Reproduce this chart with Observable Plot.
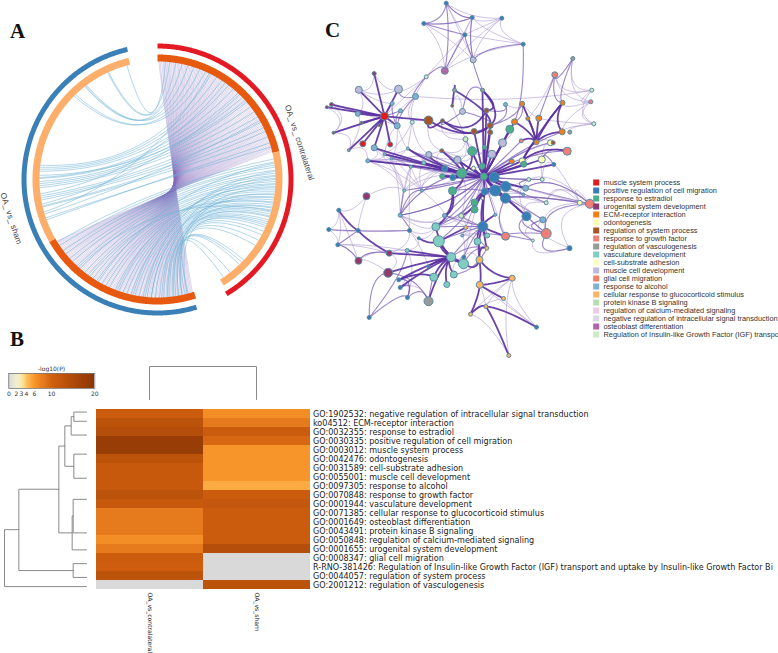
<!DOCTYPE html>
<html><head><meta charset="utf-8">
<script src="https://cdn.jsdelivr.net/npm/d3@7"></script>
<script src="https://cdn.jsdelivr.net/npm/@observablehq/plot@0.6"></script>
<style>
html,body{margin:0;padding:0;background:#fff}
#page{position:relative;width:778px;height:653px;overflow:hidden;background:#fff}
#page>svg,#page>div{position:absolute}
.tag{font:bold 21px "Liberation Serif",serif;color:#111;line-height:21px}
</style></head><body><div id="page"></div>
<script>
// ---------- Panel A: chord diagram (angles in degrees clockwise from the top)
const ringOuter = [{name:"OA_ vs_ contralateral",a0:0,a1:149,color:"#e31a24"},{name:"OA_ vs_ sham",a0:163,a1:347,color:"#3a80b6"}];
const ringInner = [{a0:0,a1:77,color:"#e6590f"},{a0:77,a1:148,color:"#fdae6b"},{a0:162,a1:240,color:"#e6590f"},{a0:240,a1:346.6,color:"#fdae6b"}];
const purpleFrom = [0.6,1.2,2,2.7,3.3,4.1,4.8,5.5,6.1,6.9,7.6,8.2,9,9.7,10.4,11,11.8,12.5,13.2,13.9,14.5,15.3,16,16.7,17.3,18.1,18.8,19.5,20.1,20.9,21.6,22.3,22.9,23.7,24.4,25.1,25.8,26.4,27.2,27.9,28.6,29.2,30,30.7,31.4,32,32.8,33.5,34.2,34.9,35.5,36.3,37,37.7,38.3,39.1,39.8,40.5,41.1,41.9,42.6,43.3,44,44.6,45.4,46.1,46.8,47.4,48.2,48.9,49.6,50.2,51,51.7,52.4,53.1,53.7,54.5,55.2,55.9,56.5,57.3,58,58.7,59.3,60.1,60.8,61.5,62.2,62.8,63.6,64.3,65,65.6,66.4,67.1,67.8,68.4,69.2,69.9,70.6,71.3,71.9,72.7,73.4,74.1,74.7,75.5,76.2];
const purpleTo = [162.8,163.5,164.2,164.9,165.6,166.2,167,167.7,168.4,169,169.8,170.5,171.2,171.9,172.5,173.3,174,174.7,175.3,176.1,176.8,177.5,178.1,178.9,179.6,180.3,181,181.6,182.4,183.1,183.8,184.4,185.2,185.9,186.6,187.3,187.9,188.7,189.4,190.1,190.7,191.5,192.2,192.9,193.5,194.3,195,195.7,196.4,197,197.8,198.5,199.2,199.8,200.6,201.3,202,202.6,203.4,204.1,204.8,205.5,206.1,206.9,207.6,208.3,208.9,209.7,210.4,211.1,211.8,212.4,213.2,213.9,214.6,215.2,216,216.7,217.4,218.1,218.7,219.5,220.2,220.9,221.5,222.3,223,223.7,224.4,225,225.8,226.5,227.2,227.8,228.6,229.3,230,230.7,231.3,232.1,232.8,233.5,234.1,234.9,235.6,236.3,237,237.7,238.5];
const bluePairs = [[345,4],[335,6],[335.5,9],[322,12],[322.5,15],[323,18],[315,21],[316,24],[276,30],[275,33],[274,37],[271,40],[270.5,43],[269,46],[268,49],[267,52],[266,55],[262,58],[261,61],[260,64],[257,66],[256.5,69],[250,72],[251,74],[277,27],[272,48],[263,35],[258,44],[253,60],[254,26],
[80,238],[81.5,236],[83,233],[84,231],[85.5,228],[87,226],[88,223],[89.5,221],[91,218],[92,216],[93.5,213],[95,211],[96,208],[97.5,206],[98.5,204],[100,201],[101,199],[102.5,197],[103.5,195],[105,193],[106,191],[107,189],[108.5,187],[110,185],[111,183],[112,181],[114,179],[116,177],[118,175.5],[121,174],[124,172.5],[133,171],[134.5,169.5],[136,168],[142,166.5],[146,165],[86,186],[90,178],[94,170],[99,183],[104,175],[88.5,192],[92.5,200],[97,168],[108,172],[113,165.5],[82,210],[101.5,215],[105.5,222]];

// ---------- Panel B: heatmap of -log10(P)
const goTerms = ["GO:1902532: negative regulation of intracellular signal transduction","ko04512: ECM-receptor interaction","GO:0032355: response to estradiol","GO:0030335: positive regulation of cell migration","GO:0003012: muscle system process","GO:0042476: odontogenesis","GO:0031589: cell-substrate adhesion","GO:0055001: muscle cell development","GO:0097305: response to alcohol","GO:0070848: response to growth factor","GO:0001944: vasculature development","GO:0071385: cellular response to glucocorticoid stimulus","GO:0001649: osteoblast differentiation","GO:0043491: protein kinase B signaling","GO:0050848: regulation of calcium-mediated signaling","GO:0001655: urogenital system development","GO:0008347: glial cell migration","R-RNO-381426: Regulation of Insulin-like Growth Factor (IGF) transport and uptake by Insulin-like Growth Factor Bi","GO:0044057: regulation of system process","GO:2001212: regulation of vasculogenesis"];
const columns = ["OA_vs_contralateral","OA_vs_sham"];
const contralateral = [11,13,14,18,18,13,11.5,11.5,11.5,13,11.5,8,8,8,6.5,8,11,10.5,13,0];
const sham = [6.5,8,11,9.5,6,6,6,6,5,11,12,11,11,11,11,14,0,0,0,13];
const heatStops = [0,2,3,4,6,10,20];
const heatColors = ["#d9d9d9","#f1eed0","#fbe9a8","#fdc05a","#f8952a","#d2600f","#8a3403"];
const barPositions = [8.3,16,21,26,34,51,94.3];
// dendrogram merges: top child distance/row, merge distance, bottom child distance/row
const merges = [[0,.5,38,0,1.5],[38,1,46,0,3],[0,5.08,38,0,7.7],[46,2,65,38,6.4],[0,10,40,0,13.65],[40,11.8,43,0,15.5],[65,4.2,83,43,13.65],[0,17,40,0,18.5],[83,8.9,203,40,17.75],[203,13.3,246,0,19.5]];

// ---------- Panel C: enrichment network
const terms = ["muscle system process","positive regulation of cell migration","response to estradiol","urogenital system development","ECM-receptor interaction","odontogenesis","regulation of system process","response to growth factor","regulation of vasculogenesis","vasculature development","cell-substrate adhesion","muscle cell development","glial cell migration","response to alcohol","cellular response to glucocorticoid stimulus","protein kinase B signaling","regulation of calcium-mediated signaling","negative regulation of intracellular signal transduction","osteoblast differentiation","Regulation of Insulin-like Growth Factor (IGF) transpo"];
const termColors = ["#e41a1c","#377eb8","#4daf8a","#8e3a6e","#f57f17","#ffffb3","#a65628","#ef8078","#999999","#80cdc1","#ffffbf","#bebada","#f08068","#80b1d3","#fdb462","#b3dfb0","#f0cbe5","#d9d9e3","#b066a8","#ccebc5"];
const nodeX = [445.7,471.7,501.3,423.3,464.3,522.7,472.7,444.3,425.7,373.7,358.3,398,415,572.3,554.3,591.3,590.3,593.3,454,482,331,326.3,391.7,400,357.3,384,361,379,396.7,411.7,428,442,451.7,462,486,505,521.7,562,514,527.3,538.3,489.7,473.7,489.7,509.3,333,362.3,389.7,348.3,373.7,465,441.3,471.7,502,491.3,484,520.7,536,550,552.7,561.7,569.3,566.7,541.3,521.7,523.3,511.3,553.3,407.3,428.3,367.3,384,391,423.3,410.3,457,444.3,441.7,461.3,452.3,473,481.7,483.3,493.7,505.3,528.3,541.7,494.7,484.3,505,525,522.7,482,452,474,474,444,460.7,494.7,526,545.7,579.3,589.3,542.3,435.3,465.3,482.3,461.7,486.7,438.3,477,505,545.7,532.3,569,486.3,450.7,463.3,479,366,403.7,421.3,399.7,338.3,328.3,357.7,337.3,409,418.3,406.7,388.7,358,387.7,427.7,433.3,453.3,463,446.3,398.3,399.7,407,428,368.7,479.3,511.7,503,485.3,470,536,508.3];
const nodeY = [2.7,17,17.7,23,34.3,43.7,59.3,70.3,76.3,73,89.3,88.7,96,58,74.3,89.7,101.3,123.3,89.7,89.7,104,106.7,103,110.3,113.3,115.7,122.3,124.7,125.3,121.7,120,120.3,105.3,111,110,104,103.3,102.3,121.3,118,117.7,125,131,131.7,128.7,132.3,143.3,144,149.7,147.3,138.7,150.3,150.7,142.3,153.7,146.7,140.3,141.7,142.3,142.3,131.3,131.7,150.7,159,160.3,163.7,161,164,148,154,160.3,153.7,158,162.3,166.3,159.3,168,175.7,172.7,177,167.7,165.7,176,176.7,186,179,179,190,191,197.7,187.7,194,197.7,190.3,202,209,215,215.3,214.3,215.7,202.3,202.3,203.3,219.3,226.3,227,226,235,235,240.7,241,235.7,233,240,247.7,247.7,256.7,256.7,259.3,195.7,190,190,214.7,209.7,229,230,244.3,230,237.7,250,252.7,260.3,272.3,266,276.7,274,263.3,284,279.3,287,297,300.7,317,284.3,277.7,298,306,313.7,326.7,355];
const nodeSize = [2,2,2,2,2,2,3,3.5,2,2,3.5,4,3,2,3,2,2,2,2,2,2,1.5,2,2,2.5,4,1.5,1.5,3,2,4.5,2,1.5,3,2.5,2,2.5,2.5,3,2,3,3,3,2.5,4,1.5,3,2.5,1.5,3,2.5,2,4.5,4,4,2,2,2.5,3,2,3,2,4,3.5,3,3,2.5,2,1.5,3,2,1.5,1.5,2,1.5,3.5,3,2.5,5,3,2,3,3.5,5,5,2,2,5.5,3.5,5,3,1.5,1.5,4,3.5,3.5,2,2.5,1.5,4.5,2,2.5,4.5,3,4,2,5,1.5,2.5,5.5,3.5,4,5,1.5,2.5,2,4.5,2,3.5,3.5,1.5,1.5,2,2,2,2,2,2,1.5,2,3,3.5,4.5,1.5,4,3.5,5,3,2,2,2,4.5,2,3.5,3,2,2,2,2,2];
const nodeTerm = [1,1,1,1,1,1,11,18,19,3,11,11,13,8,7,19,7,19,8,8,3,3,13,13,13,0,6,6,13,19,6,6,6,11,6,13,4,4,4,4,4,6,6,6,2,6,0,0,8,13,19,6,2,11,11,2,7,4,5,6,4,8,7,5,5,2,4,1,9,11,13,13,13,9,9,11,1,2,2,1,5,2,2,1,1,19,19,1,1,1,13,13,5,2,2,2,13,19,13,1,19,5,7,13,9,14,1,13,9,9,9,7,7,19,1,14,9,1,14,3,9,13,13,1,1,1,1,1,1,9,3,3,3,1,9,9,9,9,1,1,1,8,1,14,14,14,14,14,1,14];
// edges: hub node number (1-based) and the nodes it joins
const strongEdges = [[26,[31,11,12,10,21,22,47,48,49,50,46,25,27,28,29]],[31,[32,42]],[32,[35,42]],[19,[33,42]],[20,[35,83,42]],[35,[83]],[83,[42,43,44,45,54,55,56,53,79,77,78,80,82,84,85,88,89,65,66,64,67,68,39,76,81,90,91,100]],[89,[107,95,96,93,116,98,88,85,90]],[107,[109,111,119,99,112]],[119,[145,144,137,116]],[58,[38,39,40,41,65,61,57,37]],[65,[38,63]],[38,[61]],[79,[50,71,72,74,70,69,52,53,76,80,94,78]],[94,[105,97]],[117,[110,105,137,135,136,138,133,134,139,140,142,130,131]],[110,[129,106,137]],[139,[135]],[148,[144,147]],[147,[149,150]],[144,[145,146]],[124,[126]],[126,[131]]];
const midEdges = [[1,[8,4,2]],[4,[2,5]],[5,[8,7]],[7,[6,2,20]],[6,[39]],[8,[9]],[9,[13]],[13,[12,29]],[34,[20,42,32]],[23,[26,29]],[24,[26,29]],[36,[35,42]],[37,[39,42]],[15,[38,41]],[14,[15,38]],[64,[68,63]],[86,[91]],[100,[113]],[91,[103]],[90,[103,104,113,102,112]],[88,[100]],[100,[114]],[112,[109,114,113]],[113,[115,104,103]],[132,[131,127]],[143,[133,141,130]],[141,[140,139,142]],[142,[133,135]],[125,[128]],[127,[126]],[123,[79,83,122,121,128]],
[83,[70,76,74,69,75,73,72,71,121,122,123,97,105,98,94,52,51,57,59,61,63,86,87,92,101,103,109,99]],[107,[98,97,105,110,117,118]],[89,[94,110,105]],[116,[137,117,111,136]]];
const lightEdges = [[1,[2,3,5,7]],[2,[3,4,5,6,8,7]],[3,[5,6,7,8]],[4,[8,7]],[5,[6,9]],[6,[8]],[9,[12,30,26]],[13,[30,24,16]],[21,[25,46,22,29]],[22,[46]],[11,[25,12,23]],[10,[11,12]],[49,[25,46,71]],[46,[27]],[14,[17,16]],[15,[16,17,40]],[16,[17,18]],[17,[18,38,61]],[18,[62,61,41]],[37,[36,40,41]],[124,[125,127,120,132]],[125,[126,127]],[126,[128,120]],[127,[132,131]],[128,[129,131]],[130,[131,132,127]],[131,[133,132]],[132,[133]],[139,[140,141]],[140,[141,142]],[141,[130]],[144,[147,148,149]],[145,[147,148,149,150]],[146,[148,149]],[148,[150]],[103,[102,91,115,101,86]],[102,[113,101,68]],[104,[115,114]],[114,[115]],[71,[72,73,75,70,121,122,74]],[72,[73,75,121]],[73,[74,75,122,123]],[74,[75,70,122]],[75,[121,123,128]],[69,[70,73,72]],[70,[76,74,52]],[121,[120,50]],[122,[75,97]],[123,[97,98,105,76]],[30,[69,31,72,70]],[29,[69,72,73]],[50,[71,73,72]],[51,[52,55,76]],[52,[53]],[53,[76,56]],[54,[55,45]],[55,[56,81]],[105,[97,98,128,129]],[97,[98,106]],[98,[106,109]],[106,[109,108]],[108,[109,111,118]],[118,[119,136,137]],[111,[119,109]],[129,[130]],[134,[128]],[31,[52,43]],[32,[51]],[33,[34,51]],[60,[59,58]],[59,[64]],[66,[65,64]],[87,[64,68,86]],[86,[100,90]],[92,[91,88,90]],[101,[90,100]],
[79,[121,122,73,75,97,98,123]],[77,[70,74,75,69,121,122,76,52]],[80,[74,75,70]],[83,[58,60,102,104,113,112,118,108,106]],[107,[108,106]]];
const bundleX = [384,483,433,460,535,485,350,405,470];
const bundleY = [116,180,255,35,125,290,235,160,225];

const page = document.getElementById("page");
function place(el,l,t){el.style.left=l+"px";el.style.top=t+"px";page.appendChild(el);return el;}
function tag(s,l,t){const d=document.createElement("div");d.className="tag";d.textContent=s;place(d,l,t);}
const noStyle = {background:"transparent",overflow:"visible"};

// ---- chord helpers: pull says how far the bend sits from the circle's centre toward the chord's middle
const polar = (a,r)=>[r*Math.sin(a*Math.PI/180),-r*Math.cos(a*Math.PI/180)];
const arcRows = (rings,r)=>rings.flatMap((g,i)=>d3.range(g.a0,g.a1,0.5).concat(g.a1).map(a=>{const [x,y]=polar(a,r);return {i,x,y,color:g.color};}));
const chordRows = (pairs,r,pull)=>pairs.flatMap(([a,b],i)=>{const [x0,y0]=polar(a,r),[x2,y2]=polar(b,r);const cx=pull*(x0+x2)/2,cy=pull*(y0+y2)/2;return d3.range(0,1.001,1/20).map(t=>({i,x:(1-t)*(1-t)*x0+2*t*(1-t)*cx+t*t*x2,y:(1-t)*(1-t)*y0+2*t*(1-t)*cy+t*t*y2}));});
const purplePairs = purpleFrom.map((a,i)=>[a,purpleTo[i]]).filter(p=>p[1]!==undefined);
const lineOpts={x:"x",y:"y",z:"i",curve:"linear"};
place(Plot.plot({width:320,height:330,margin:0,style:noStyle,
  x:{domain:[-157,163],range:[0,320],axis:null},y:{domain:[-159,171],range:[0,330],axis:null},
  marks:[
    Plot.line(chordRows(purplePairs,118,.85),{...lineOpts,stroke:"#8468bb",strokeWidth:.5,strokeOpacity:.55}),
    Plot.line(chordRows(bluePairs,118,.15),{...lineOpts,stroke:"#6fb2d6",strokeWidth:.7,strokeOpacity:.75}),
    Plot.line(arcRows(ringInner,121.5),{...lineOpts,stroke:"color",strokeWidth:7,strokeLinecap:"butt"}),
    Plot.line(arcRows(ringOuter,133.5),{...lineOpts,stroke:"color",strokeWidth:5,strokeLinecap:"butt"}),
    Plot.text([{t:"OA_ vs_ contralateral",x:142,y:-37},{t:"OA_ vs_ sham",x:-146.5,y:39}],{x:"x",y:"y",text:"t",rotate:72,fontSize:8.2,fill:"#444",fontFamily:"Liberation Sans"})
  ]}),0,20);

// ---- heatmap
const heatRows = goTerms.flatMap((t,i)=>[{t,c:columns[0],v:contralateral[i]},{t,c:columns[1],v:sham[i]}]);
place(Plot.plot({width:778,height:258,marginLeft:95.7,marginRight:468,marginTop:12.3,marginBottom:62,style:{...noStyle,fontFamily:"DejaVu Sans"},
  x:{domain:columns,padding:0,label:null},y:{domain:goTerms,padding:0,label:null},
  color:{type:"linear",domain:heatStops,range:heatColors},
  marks:[
    Plot.cell(heatRows,{x:"c",y:"t",fill:"v"}),
    Plot.axisY({anchor:"right",tickSize:0,tickPadding:2.5,label:null,fontSize:8.05,fill:"#222"}),
    Plot.axisX({anchor:"bottom",tickSize:0,tickPadding:1,tickRotate:90,label:null,fontSize:6.1,fill:"#222"})
  ]}),0,395);

// ---- left dendrogram
const treeRows = merges.flatMap(([d1,r1,m,d2,r2],i)=>[{i,d:d1,r:r1},{i,d:m,r:r1},{i,d:m,r:r2},{i,d:d2,r:r2}]);
place(Plot.plot({width:95,height:184,margin:0,style:noStyle,
  x:{domain:[258,0],range:[0,86],axis:null},y:{domain:[0,20],range:[0,183.7],axis:null},
  marks:[Plot.line(treeRows,{x:"d",y:"r",z:"i",stroke:"#8a8a8a",strokeWidth:1})]}),0,407.3);

// ---- top dendrogram
const topRows = [{c:columns[0],h:0},{c:columns[0],h:1},{c:columns[1],h:1},{c:columns[1],h:0}];
place(Plot.plot({width:310,height:36,margin:0,style:noStyle,
  x:{type:"point",domain:columns,padding:.5,range:[95.7,310],axis:null},y:{domain:[0,1],range:[35,2],axis:null},
  marks:[Plot.line(topRows,{x:"c",y:"h",stroke:"#8a8a8a",strokeWidth:1})]}),0,364);

// ---- colour bar (its value axis is piecewise: the listed stops sit at barPositions)
const barPos = d3.scaleLinear().domain(heatStops).range(barPositions);
const bar = d3.range(0,20,.25).map(v=>({v,w:v+.25}));
place(Plot.plot({width:100,height:38,marginLeft:8.3,marginRight:5.7,marginTop:13,marginBottom:10,style:{...noStyle,fontFamily:"DejaVu Sans"},
  x:{domain:[8.3,94.3],axis:null},
  color:{type:"linear",domain:heatStops,range:heatColors},
  marks:[
    Plot.rect(bar,{x1:d=>barPos(d.v),x2:d=>barPos(d.w),fill:"v",shapeRendering:"crispEdges"}),
    Plot.frame({stroke:"#777",strokeWidth:.8}),
    Plot.text(heatStops,{x:d=>barPos(d),text:d=>d,frameAnchor:"bottom",dy:7,fontSize:6,fill:"#333"}),
    Plot.text(["-log10(P)"],{x:()=>51,frameAnchor:"top",dy:-6.5,fontSize:6,fill:"#333"})
  ]}),0,360);

// ---- network
const nodes = nodeX.map((x,i)=>({x,y:nodeY[i],r:nodeSize[i],term:terms[nodeTerm[i]]}));
function edgeRows(list){
  const out=[];let id=0;
  for(const [h,others] of list) for(const o of others){
    const a=nodes[h-1],b=nodes[o-1];
    const mx=(a.x+b.x)/2,my=(a.y+b.y)/2;
    const k=d3.least(d3.range(bundleX.length),i=>(bundleX[i]-mx)**2+(bundleY[i]-my)**2);
    const cx=mx+.35*(bundleX[k]-mx),cy=my+.35*(bundleY[k]-my);
    for(let t=0;t<=1.001;t+=.1) out.push({id,x:(1-t)*(1-t)*a.x+2*t*(1-t)*cx+t*t*b.x,y:(1-t)*(1-t)*a.y+2*t*(1-t)*cy+t*t*b.y});
    id++;
  }
  return out;
}
place(Plot.plot({width:290,height:365,margin:0,style:noStyle,
  x:{domain:[320,610],range:[0,290],axis:null},y:{domain:[0,365],range:[0,365],axis:null},
  r:{type:"identity"},color:{domain:terms,range:termColors},
  marks:[
    Plot.line(edgeRows(lightEdges),{x:"x",y:"y",z:"id",stroke:"#b3a2d6",strokeWidth:1,strokeOpacity:.65}),
    Plot.line(edgeRows(midEdges),{x:"x",y:"y",z:"id",stroke:"#7b5fb6",strokeWidth:1.1,strokeOpacity:.75}),
    Plot.line(edgeRows(strongEdges),{x:"x",y:"y",z:"id",stroke:"#5a2fa0",strokeWidth:1.8,strokeOpacity:.9}),
    Plot.dot(nodes,{x:"x",y:"y",r:"r",fill:"term",stroke:"#5b8ba3",strokeWidth:1})
  ]}),320,0);

// ---- network legend
place(Plot.plot({width:188,height:175,margin:0,style:{...noStyle,fontFamily:"Liberation Sans"},
  x:{axis:null,domain:[0,1],range:[0,188]},y:{type:"point",padding:0,domain:terms,range:[4.7,166.7],axis:null},
  color:{domain:terms,range:termColors},
  marks:[
    Plot.dot(terms,{y:d=>d,x:()=>.0303,symbol:"square",r:3.4,fill:d=>d,stroke:"none"}),
    Plot.text(terms,{y:d=>d,x:()=>.069,text:d=>d,textAnchor:"start",fontSize:7.4,fill:"#333"})
  ]}),590,172);

tag("A",10,21);tag("B",10,329);tag("C",325,20);
</script></body></html>
